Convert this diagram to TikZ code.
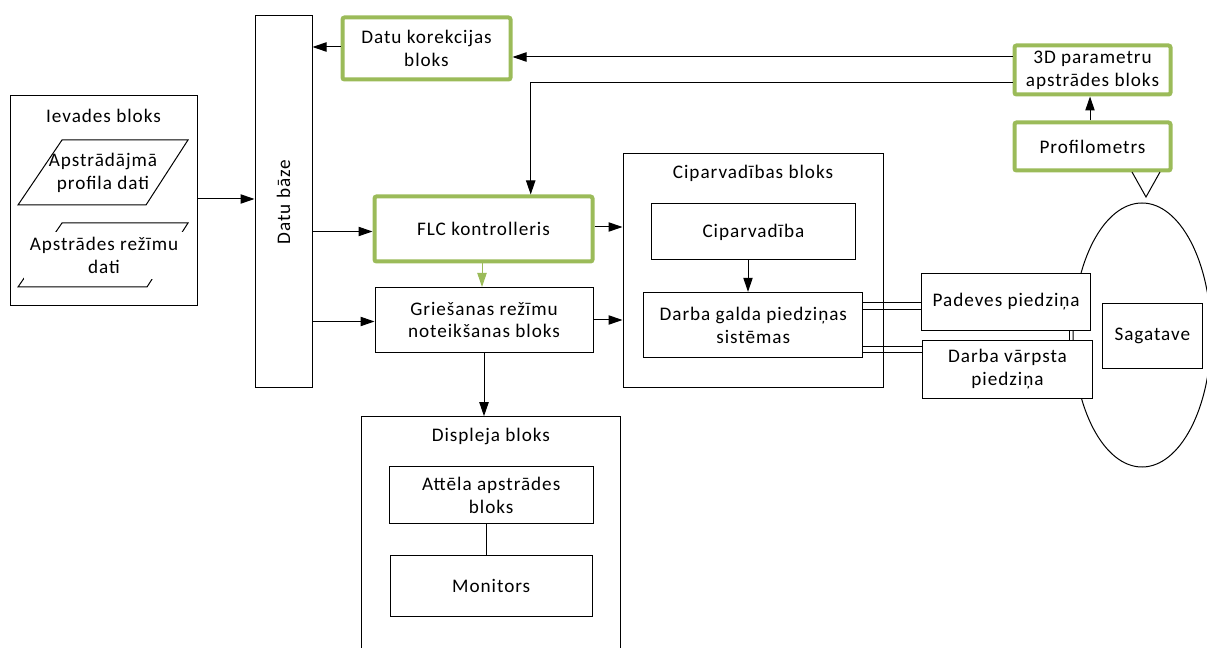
\documentclass[tikz,border=0pt]{standalone}
\usepackage{fontspec}
\setmainfont{Carlito}[LetterSpace=5]
\usetikzlibrary{arrows.meta}
\definecolor{grn}{RGB}{155,187,89}
\tikzset{
  every node/.style={font=\fontsize{14.4}{17.2}\selectfont},
  box/.style={draw, line width=0.75pt, fill=white, inner sep=0pt, align=center},
  gbox/.style={box, draw=grn, line width=3pt, rounded corners=1.5pt},
  sz/.style 2 args={minimum width={#1*0.75pt}, minimum height={#2*0.75pt}},
  arr/.style={-{Triangle[length=10.5pt,width=7pt]}, line width=0.75pt},
  garr/.style={arr, draw=grn, -{Triangle[length=10.5pt,width=7pt,fill=grn]}},
  ln/.style={line width=0.75pt}
}
\begin{document}
\begin{tikzpicture}[x=0.75pt,y=-0.75pt]
\useasboundingbox (0,0) rectangle (1207,648);
\clip (0,0) rectangle (1207,648);
% input block
\node[box, sz={187}{210}] (iev) at (103.5,201) {};
\node (ievt) at (103.5,116) {Ievades bloks};
\draw[ln] (62,140) -- (188,140) -- (146,205) -- (18,205) -- cycle;
\node[align=center] (p1) at (103,173) {Apstrādājmā\\profila dati};
\draw[ln] (62,223) -- (188,223) -- (147,287) -- (18,287) -- cycle;
\node[fill=white, align=center, inner sep=0pt, sz={160}{47}] (p2) at (104,255.5) {Apstrādes režīmu\\dati};
% database
\node[box, sz={57}{372}] (db) at (283.5,202) {};
\node[rotate=90] (dbt) at (283.5,202) {Datu bāze};
% green blocks
\node[gbox, sz={168}{62}] (kor) at (426.5,48.5) {Datu korekcijas\\bloks};
\node[gbox, sz={156}{49}] (p3d) at (1092.5,70) {3D parametru\\apstrādes bloks};
\node[gbox, sz={156}{48}] (prof) at (1092.5,146.5) {Profilometrs};
\node[gbox, sz={218}{65}] (flc) at (483.5,229) {FLC kontrolleris};
\node[box, sz={218}{65}] (gr) at (484,320) {Griešanas režīmu\\noteikšanas bloks};
% numeric control block
\node[box, sz={260}{234}] (cipc) at (753,271) {};
\node (cipt) at (753,173) {Ciparvadības bloks};
\node[box, sz={204.5}{56}] (cip) at (753.5,232) {Ciparvadība};
\node[box, sz={218.7}{65.4}] (dg) at (753.3,325) {Darba galda piedziņas\\sistēmas};
% workpiece
\draw[ln] (1142,335) ellipse [x radius=51.75pt, y radius=99pt];
\node[box, sz={169}{57.4}] (pad) at (1006.2,302) {Padeves piedziņa};
\node[box, sz={169.6}{58.3}] (dv) at (1007.5,369.2) {Darba vārpsta\\piedziņa};
\node[box, sz={100}{64.7}] (sag) at (1152.3,336.3) {Sagatave};
\draw[ln] (1132,172) -- (1146,197) -- (1160,172);
% display block
\node[box, sz={259.7}{243.3}] (disp) at (490.85,538.35) {};
\node (dispt) at (490.85,436) {Displeja bloks};
\node[box, sz={204.3}{56.6}] (att) at (491.2,495) {Attēla apstrādes\\bloks};
\node[box, sz={202.3}{61}] (mon) at (491.2,585.5) {Monitors};
% connectors
\draw[arr] (iev.east |- 0,199) -- (db.west |- 0,199);
\draw[arr] (kor.west |- 0,47) -- (db.east |- 0,47);
\draw[arr] (p3d.west |- 0,57) -- (kor.east |- 0,57);
\draw[arr] (p3d.west |- 0,83) -| (530.7,0 |- flc.north);
\draw[arr] (prof.north -| 1090,0) -- (p3d.south -| 1090,0);
\draw[arr] (db.east |- 0,231.5) -- (flc.west |- 0,231.5);
\draw[arr] (flc.east |- 0,227) -- (cipc.west |- 0,227);
\draw[garr] (flc.south -| 482,0) -- (gr.north -| 482,0);
\draw[arr] (db.east |- 0,321.5) -- (gr.west |- 0,321.5);
\draw[arr] (gr.east |- 0,320) -- (cipc.west |- 0,320);
\draw[arr] (cip.south -| 748,0) -- (dg.north -| 748,0);
\draw[arr] (gr.south -| 484,0) -- (disp.north -| 484,0);
\draw[ln] (att.south -| 486,0) -- (mon.north -| 486,0);
\draw[ln] (dg.east |- 0,303) -- (pad.west |- 0,303);
\draw[ln] (dg.east |- 0,310) -- (pad.west |- 0,310);
\draw[ln] (dg.east |- 0,347) -- (dv.west |- 0,347);
\draw[ln] (dg.east |- 0,353) -- (dv.west |- 0,353);
\draw[ln] (pad.south -| 1069,0) -- (dv.north -| 1069,0);
\end{tikzpicture}
\end{document}
